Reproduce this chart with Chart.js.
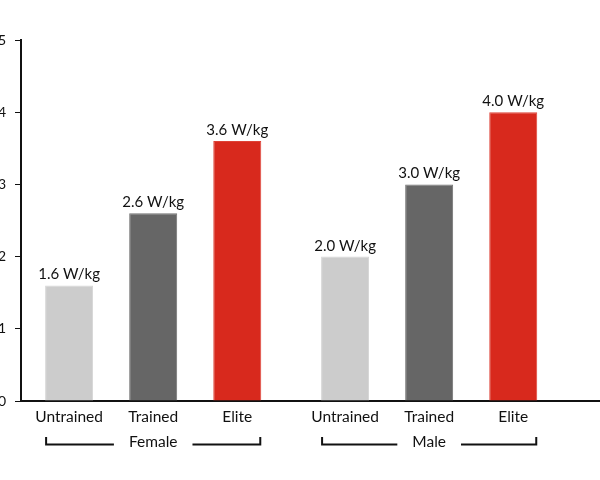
<!DOCTYPE html>
<html>
<head>
<meta charset="utf-8">
<script src="https://cdn.jsdelivr.net/npm/chart.js@4"></script>
<style>
  html, body { margin: 0; padding: 0; background: #fff; }
  #wrap { width: 600px; height: 480px; }
</style>
</head>
<body>
<div id="wrap"><canvas id="c" width="600" height="480"></canvas></div>
<script>
const groups = ['Female', 'Male'];
const levels = ['Untrained', 'Trained', 'Elite'];
const untrainedValues = [1.6, 2.0];
const trainedValues = [2.6, 3.0];
const eliteValues = [3.6, 4.0];
const yTickValues = [0, 1, 2, 3, 4, 5];
const unit = 'W/kg';

const colors = ['#cccccc', '#666666', '#d8291d'];
const borderColors = ['#d6d6d6', '#727272', '#de4236'];
const FONT = 'Lato, "Open Sans", sans-serif';
const INK = '#111111';

const seriesValues = [untrainedValues, trainedValues, eliteValues];

const datasets = levels.map((lvl, k) => ({
  label: lvl,
  data: seriesValues[k].map((v, i) => ({ x: i, y: v })),
  backgroundColor: colors[k],
  borderColor: borderColors[k],
  borderWidth: 1,
  categoryPercentage: 0.914,
  barPercentage: 0.571
}));

const annotatePlugin = {
  id: 'annotate',
  afterDatasetsDraw(chart) {
    const ctx = chart.ctx;
    const xs = chart.scales.x;
    ctx.save();
    ctx.fillStyle = INK;
    ctx.textAlign = 'center';
    ctx.textBaseline = 'alphabetic';
    // value labels and level labels
    chart.data.datasets.forEach((ds, k) => {
      const meta = chart.getDatasetMeta(k);
      meta.data.forEach((bar, i) => {
        const v = ds.data[i].y;
        ctx.font = '15px ' + FONT;
        ctx.fillText(v.toFixed(1) + ' ' + unit, bar.x, bar.y - 6);
        ctx.font = '15.5px ' + FONT;
        ctx.fillText(levels[k], bar.x, chart.chartArea.bottom + 21);
      });
    });
    // group labels with brackets
    const nSets = chart.data.datasets.length;
    groups.forEach((g, i) => {
      const first = chart.getDatasetMeta(0).data[i];
      const last = chart.getDatasetMeta(nSets - 1).data[i];
      const left = first.x - first.width / 2;
      const right = last.x + last.width / 2;
      const cx = xs.getPixelForValue(i);
      ctx.font = '15.5px ' + FONT;
      const tw = ctx.measureText(g).width;
      const yText = chart.chartArea.bottom + 46;
      ctx.fillText(g, cx, yText);
      const gap = 15;
      const yLine = chart.chartArea.bottom + 43.5;
      ctx.strokeStyle = INK;
      ctx.lineWidth = 2;
      ctx.lineCap = 'butt';
      ctx.beginPath();
      ctx.moveTo(left + 1, chart.chartArea.bottom + 36);
      ctx.lineTo(left + 1, yLine);
      ctx.lineTo(cx - tw / 2 - gap, yLine);
      ctx.moveTo(cx + tw / 2 + gap, yLine);
      ctx.lineTo(right - 1, yLine);
      ctx.lineTo(right - 1, chart.chartArea.bottom + 36);
      ctx.stroke();
    });
    ctx.restore();
  }
};

new Chart(document.getElementById('c'), {
  type: 'bar',
  data: { datasets },
  options: {
    responsive: false,
    animation: false,
    layout: { padding: { top: 40, bottom: 79, left: 0, right: 0 } },
    plugins: { legend: { display: false }, tooltip: { enabled: false } },
    scales: {
      x: {
        type: 'linear',
        offset: false,
        min: -0.479,
        max: 1.619,
        afterBuildTicks: s => { s.ticks = groups.map((g, i) => ({ value: i })); },
        afterFit: s => { s.height = 0; },
        ticks: { display: false },
        grid: { display: true, drawOnChartArea: false, drawTicks: false, color: 'rgba(0,0,0,0)' },
        border: { display: true, color: INK, width: 2 }
      },
      y: {
        min: 0,
        max: 5,
        afterBuildTicks: s => { s.ticks = yTickValues.map(v => ({ value: v })); },
        afterFit: s => { s.width = 21; },
        ticks: {
          padding: 9,
          color: INK,
          font: { family: FONT, size: 14 },
          callback: v => String(v)
        },
        grid: { display: true, drawOnChartArea: false, drawTicks: true, tickLength: 6, color: INK, lineWidth: 1 },
        border: { display: true, color: INK, width: 2 }
      }
    }
  },
  plugins: [annotatePlugin]
});
</script>
</body>
</html>
